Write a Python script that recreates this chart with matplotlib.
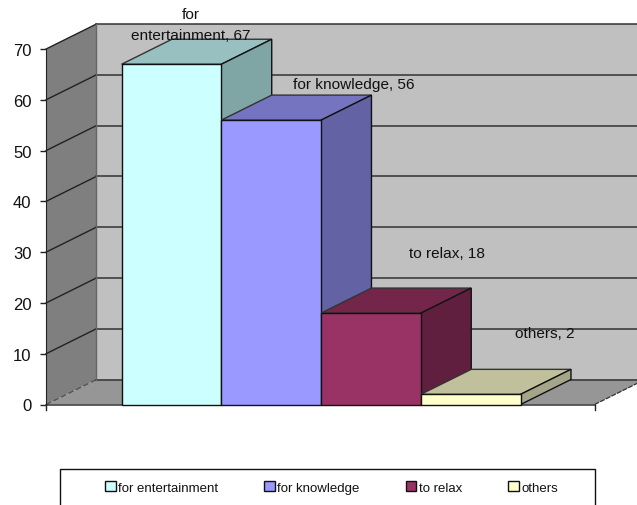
import matplotlib
matplotlib.use("Agg")
import matplotlib.pyplot as plt
from matplotlib.patches import Patch, Polygon, Rectangle

plt.rcParams['font.family'] = ['Liberation Sans', 'DejaVu Sans']

categories = ['for entertainment', 'for knowledge', 'to relax', 'others']
values = [67, 56, 18, 2]
ticks = [0, 10, 20, 30, 40, 50, 60, 70]

front_colors = ['#CCFFFF', '#9999FF', '#993366', '#FFFFCC']
top_colors = ['#99C0C0', '#7474C0', '#732649', '#C0C09C']
side_colors = ['#80A5A5', '#6262A5', '#611F3F', '#A5A58A']
point_labels = ['for\nentertainment, 67', 'for knowledge, 56', 'to relax, 18', 'others, 2']
label_offsets_px = [(19, 40), (83, 36), (76, 60), (74, 61)]

W, H = 637, 506
PX_X = 99.75          # pixels per category
PX_Y = 355.5 / 70     # pixels per value unit
X0_PX, Y0_PX = 121.6, 405.5

fig = plt.figure(figsize=(W / 100, H / 100), dpi=100, facecolor='white')
ax = fig.add_axes([0, 0, 1, 1])
ax.set_xlim(-X0_PX / PX_X, (W - X0_PX) / PX_X)
ax.set_ylim((Y0_PX - H) / PX_Y, Y0_PX / PX_Y)

DX, DY = 0.505, 25 / PX_Y   # depth projection of the 3-D box
LEFT = -75.5 / PX_X
RIGHT = 4 + 74 / PX_X
TOP = 70
EDGE = '#111111'


def face(pts, color, z, ec=EDGE, lw=1.0):
    ax.add_patch(Polygon(pts, closed=True, fc=color, ec=ec, lw=lw, zorder=z, joinstyle='miter'))


# walls and floor
face([(LEFT + DX, DY), (RIGHT + DX, DY), (RIGHT + DX, TOP + DY), (LEFT + DX, TOP + DY)], '#C0C0C0', 1, ec='#C0C0C0', lw=0)
face([(LEFT, 0), (LEFT + DX, DY), (LEFT + DX, TOP + DY), (LEFT, TOP)], '#7F7F7F', 1, ec='#7F7F7F', lw=0)
face([(LEFT, 0), (RIGHT, 0), (RIGHT + DX, DY), (LEFT + DX, DY)], '#969696', 1, ec='#969696', lw=0)

# gridlines across the side wall and back wall
for t in ticks:
    is_floor = t == 0
    ax.plot([LEFT, LEFT + DX], [t, t + DY], color='#555555' if is_floor else '#222222',
            lw=1.0, ls=(0, (4, 2)) if is_floor else '-', zorder=2)
    ax.plot([LEFT + DX, RIGHT + DX], [t + DY, t + DY], color='#333333', lw=1.1, zorder=2)
ax.plot([LEFT + DX, LEFT + DX], [DY, TOP + DY], color='#666666', lw=1.0, zorder=2)
ax.plot([LEFT, RIGHT], [0, 0], color='#333333', lw=1.1, zorder=2)
ax.plot([RIGHT, RIGHT + DX], [0, DY], color='#333333', lw=0.9, ls=(0, (4, 1)), zorder=2)
ax.plot([RIGHT, RIGHT], [0, -5 / PX_Y], color='#222222', lw=1.0, zorder=2)
ax.plot([LEFT, LEFT], [0, -5 / PX_Y], color='#222222', lw=1.0, zorder=2)

# bars as projected boxes, left to right so each one overlaps its neighbour's side
for i, v in enumerate(values):
    z = 3 + i
    face([(i, v), (i + 1, v), (i + 1 + DX, v + DY), (i + DX, v + DY)], top_colors[i], z, ec='#333333')
    face([(i + 1, 0), (i + 1 + DX, DY), (i + 1 + DX, v + DY), (i + 1, v)], side_colors[i], z)
    ax.bar(i + 0.5, v, width=1, color=front_colors[i], edgecolor=EDGE, linewidth=1.0, zorder=z + 0.5)
    dx, dy = label_offsets_px[i]
    ax.annotate(point_labels[i], xy=(i + 0.5, v), xytext=(dx * 0.72, dy * 0.72),
                textcoords='offset points', ha='center', va='center', fontsize=11.1,
                linespacing=1.6, color='#111111', zorder=10)

# value axis sits on the front edge of the side wall
for s in ('top', 'right', 'bottom'):
    ax.spines[s].set_visible(False)
ax.spines['left'].set_position(('data', LEFT))
ax.spines['left'].set_bounds(0, TOP)
ax.spines['left'].set_color('#222222')
ax.spines['left'].set_zorder(2)
ax.set_xticks([])
ax.set_yticks(ticks)
ax.tick_params(axis='y', length=4, width=1, color='#222222', pad=6.5, labelsize=12, labelcolor='#111111')

# legend box runs off the bottom of the figure
ax.add_patch(Rectangle((60, -12), 535, 48, transform=None, fc='white', ec='#111111', lw=1.0, zorder=11))
handles = [Patch(facecolor=c, edgecolor='#111111', linewidth=1.0) for c in front_colors]
leg = ax.legend(handles, categories, ncol=4, frameon=False, fontsize=9.5,
                loc='center left', bbox_to_anchor=(105 / W, 1 - 488.5 / H), borderaxespad=0, borderpad=0,
                handlelength=0.8, handleheight=0.8, handletextpad=0.2, columnspacing=3.48)
leg.set_zorder(12)
for txt in leg.get_texts():
    txt.set_color('#111111')

fig.savefig('out.png', dpi=100)
